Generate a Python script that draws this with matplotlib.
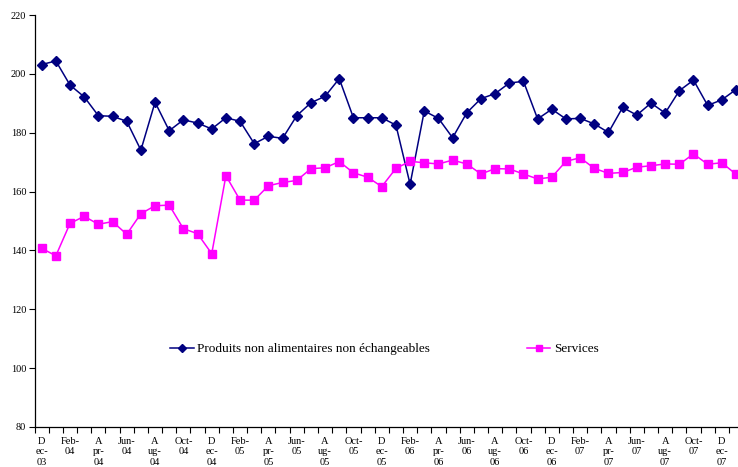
import matplotlib.pyplot as plt
import numpy as np

plt.rcParams["font.family"] = ["Liberation Serif", "DejaVu Serif"]

# monthly index, Dec-03 to Jan-08
months = ["Dec-03", "Jan-04", "Feb-04", "Mar-04", "Apr-04", "May-04", "Jun-04", "Jul-04", "Aug-04", "Sep-04",
          "Oct-04", "Nov-04", "Dec-04", "Jan-05", "Feb-05", "Mar-05", "Apr-05", "May-05", "Jun-05", "Jul-05",
          "Aug-05", "Sep-05", "Oct-05", "Nov-05", "Dec-05", "Jan-06", "Feb-06", "Mar-06", "Apr-06", "May-06",
          "Jun-06", "Jul-06", "Aug-06", "Sep-06", "Oct-06", "Nov-06", "Dec-06", "Jan-07", "Feb-07", "Mar-07",
          "Apr-07", "May-07", "Jun-07", "Jul-07", "Aug-07", "Sep-07", "Oct-07", "Nov-07", "Dec-07", "Jan-08"]

non_traded = [203.2, 204.4, 196.2, 192.2, 185.8, 185.6, 183.9, 174.1, 190.4, 180.7,
              184.4, 183.3, 181.3, 185.1, 183.9, 176.3, 178.8, 178.1, 185.8, 190.2,
              192.4, 198.4, 185.1, 185.1, 185.1, 182.6, 162.5, 187.4, 184.9, 178.3,
              186.8, 191.6, 193.3, 196.9, 197.5, 184.7, 188.0, 184.7, 184.9, 183.0,
              180.1, 188.6, 186.0, 190.1, 186.7, 194.3, 197.9, 189.3, 191.2, 194.7]

services = [140.7, 138.2, 149.2, 151.6, 148.9, 149.8, 145.5, 152.5, 155.2, 155.4,
            147.4, 145.7, 138.9, 165.4, 157.1, 157.1, 162.0, 163.1, 163.8, 167.8,
            168.1, 170.2, 166.4, 164.9, 161.7, 167.9, 170.3, 169.8, 169.4, 170.7,
            169.4, 166.0, 167.8, 167.7, 166.0, 164.3, 164.9, 170.3, 171.5, 167.9,
            166.2, 166.5, 168.3, 168.8, 169.4, 169.3, 172.8, 169.3, 169.8, 165.9]

series_names = ["Produits non alimentaires non échangeables", "Services"]


def wrap_label(label):
    # three-letter month names that don't fit get split after the first letter
    mon, yr = label.split("-")
    if mon in ("Dec", "Apr", "Aug"):
        return f"{mon[0]}\n{mon[1:]}-\n{yr}"
    return f"{mon}-\n{yr}"


fig = plt.figure(figsize=(7.38, 4.67), dpi=100)
ax = fig.add_axes([0.0469, 0.0857, 0.96, 0.882])

x = np.arange(len(months))
ax.plot(x, non_traded, color="#000080", marker="D", markersize=4.8, linewidth=1.1,
        label=series_names[0])
ax.plot(x, services, color="#FF00FF", marker="s", markersize=5.5, linewidth=1.1,
        label=series_names[1])

ax.set_xlim(-0.5, len(months) - 0.5)
ax.set_ylim(80, 220)
ax.set_yticks(np.arange(80, 221, 20))
ax.tick_params(axis="y", labelsize=7.5, length=4, width=0.8, pad=2)

label_idx = x[::2]
ax.set_xticks(label_idx)
ax.set_xticklabels([wrap_label(months[i]) for i in label_idx], fontsize=7.5, linespacing=1.25)
ax.set_xticks(np.arange(-0.5, len(months), 1), minor=True)
ax.tick_params(axis="x", which="major", length=0, pad=7)
ax.tick_params(axis="x", which="minor", length=4, width=0.8)

for side in ("top", "right"):
    ax.spines[side].set_visible(False)
for side in ("left", "bottom"):
    ax.spines[side].set_linewidth(0.9)

ax.legend(loc="center left", bbox_to_anchor=(0.174, 0.189), ncol=2, frameon=False,
          fontsize=9.5, handlelength=1.8, handletextpad=0.3, columnspacing=7.3,
          markerscale=0.9)

fig.savefig("out.png", dpi=100)
